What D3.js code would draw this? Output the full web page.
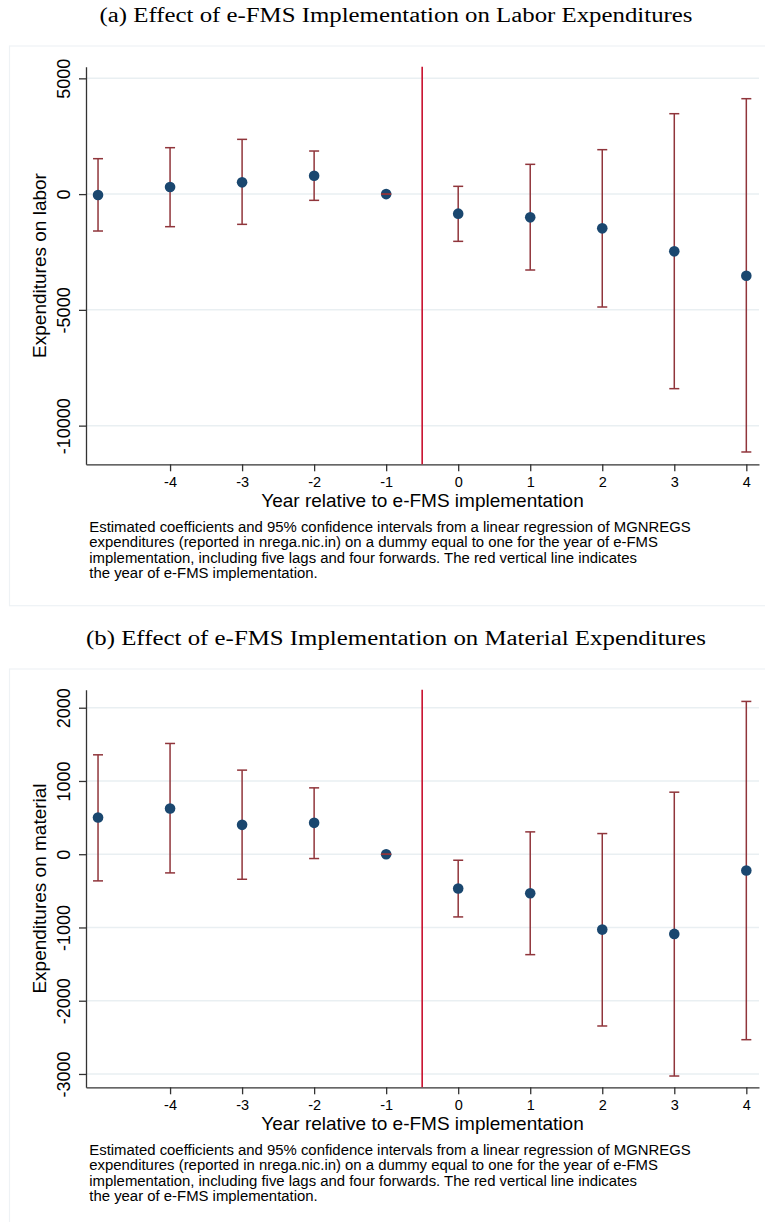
<!DOCTYPE html>
<html>
<head>
<meta charset="utf-8">
<script src="https://cdn.jsdelivr.net/npm/d3@7"></script>
<style>
    body { margin: 0; background: #ffffff; }
    svg { display: block; }
    .sans { font-family: "Liberation Sans", Arial, sans-serif; fill: #000000; }
    .serif { font-family: "Liberation Serif", "DejaVu Serif", serif; fill: #000000; }
</style>
</head>
<body>
<div id="chart"></div>
<script>
/*
Event study: effect of e-FMS implementation on MGNREGS expenditures
(a) labor, (b) material
*/

// year relative to e-FMS implementation
var years = [-5, -4, -3, -2, -1, 0, 1, 2, 3, 4];
var xTicks = [-4, -3, -2, -1, 0, 1, 2, 3, 4];

// panel a: labor expenditures
var laborCoef  = [-40, 307, 508, 796, 0, -845, -1003, -1478, -2472, -3523];
var laborUpper = [1530, 2005, 2365, 1861, 0, 336, 1286, 1919, 3473, 4121];
var laborLower = [-1594, -1407, -1306, -269, 0, -2040, -3278, -4876, -8403, -11138];
var laborTicks = [5000, 0, -5000, -10000];

// panel b: material expenditures
var materialCoef  = [501, 624, 401, 428, 0, -469, -533, -1029, -1088, -223];
var materialUpper = [1357, 1512, 1148, 906, 0, -82, 305, 282, 847, 2086];
var materialLower = [-364, -255, -342, -59, 0, -856, -1371, -2345, -3028, -2532];
var materialTicks = [2000, 1000, 0, -1000, -2000, -3000];

var noteLines = [
    'Estimated coefficients and 95% confidence intervals from a linear regression of MGNREGS',
    'expenditures (reported in nrega.nic.in) on a dummy equal to one for the year of e-FMS',
    'implementation, including five lags and four forwards. The red vertical line indicates',
    'the year of e-FMS implementation.'
];

var width = 765,
    height = 1222;

var margin = { left: 86, right: 759, top: 66.7, bottom: 464.3 };

var colors = { point: '#1a476f', ci: '#90353b', event: '#c8102e',
               grid: '#e9eff2', box: '#eef2f5', axis: '#333333' };

// plain hyphen for negative numbers, as in the original graph
var plain = function(d) { return String(d); };

var svg = d3.select('#chart').append('svg')
    .attr('width', width)
    .attr('height', height);

function drawPanel(offset, title, titleWidth, yLabel, coef, upper, lower, yDomain, yTicks) {
    /*
    This function draws one coefficient plot with its title and note.

    offset: vertical shift of the panel
    title: panel caption above the graph
    titleWidth: width of the caption
    yLabel: title of the y axis
    coef, upper, lower: point estimates and confidence bounds
    yDomain: range of the y axis
    yTicks: labelled values on the y axis
    */

    var g = svg.append('g').attr('transform', 'translate(0,' + offset + ')');

    var rows = years.map(function(d, i) {
        return { year: d, coef: coef[i], upper: upper[i], lower: lower[i] };
    });

    var x = d3.scaleLinear().domain([-5.167, 4.176]).range([margin.left, margin.right]);
    var y = d3.scaleLinear().domain(yDomain).range([margin.top, margin.bottom]);

    // caption
    g.append('text')
        .attr('class', 'serif')
        .attr('x', 396)
        .attr('y', 22)
        .attr('text-anchor', 'middle')
        .attr('textLength', titleWidth)
        .attr('lengthAdjust', 'spacingAndGlyphs')
        .style('font-size', '20px')
        .text(title);

    // light frame of the graph region
    g.append('rect')
        .attr('x', 9.5)
        .attr('y', 46)
        .attr('width', 780)
        .attr('height', 559.7)
        .style('fill', 'none')
        .style('stroke', colors.box)
        .style('stroke-width', 1.2);

    // gridlines
    g.selectAll('.grid')
        .data(yTicks)
        .enter().append('line')
        .attr('x1', margin.left)
        .attr('x2', margin.right)
        .attr('y1', function(d) { return y(d); })
        .attr('y2', function(d) { return y(d); })
        .style('stroke', colors.grid)
        .style('stroke-width', 1.5);

    // y axis
    var yAxis = g.append('g')
        .attr('transform', 'translate(' + margin.left + ',0)')
        .call(d3.axisLeft(y).tickValues(yTicks).tickSize(7).tickSizeOuter(0).tickFormat(plain));

    yAxis.select('.domain').style('stroke', colors.axis).style('stroke-width', 1.3);
    yAxis.selectAll('.tick line').style('stroke', colors.axis).style('stroke-width', 1.3);
    yAxis.selectAll('.tick text')
        .attr('class', 'sans')
        .attr('x', 0)
        .attr('y', 0)
        .attr('dy', null)
        .attr('text-anchor', 'middle')
        .attr('transform', 'translate(-16,0) rotate(-90)')
        .style('font-size', '18px');

    // x axis
    var xAxis = g.append('g')
        .attr('transform', 'translate(0,' + margin.bottom + ')')
        .call(d3.axisBottom(x).tickValues(xTicks).tickSize(7).tickSizeOuter(0).tickFormat(plain));

    xAxis.select('.domain').style('stroke', colors.axis).style('stroke-width', 1.3);
    xAxis.selectAll('.tick line').style('stroke', colors.axis).style('stroke-width', 1.3);
    xAxis.selectAll('.tick text')
        .attr('class', 'sans')
        .attr('y', 23)
        .attr('dy', null)
        .style('font-size', '14.5px');

    // axis titles
    g.append('text')
        .attr('class', 'sans')
        .attr('transform', 'translate(45.5,' + (margin.top + margin.bottom) / 2 + ') rotate(-90)')
        .attr('text-anchor', 'middle')
        .style('font-size', '19px')
        .text(yLabel);

    g.append('text')
        .attr('class', 'sans')
        .attr('x', (margin.left + margin.right) / 2)
        .attr('y', 507.3)
        .attr('text-anchor', 'middle')
        .style('font-size', '19px')
        .text('Year relative to e-FMS implementation');

    // year of e-FMS implementation
    g.append('line')
        .attr('x1', x(-0.5))
        .attr('x2', x(-0.5))
        .attr('y1', margin.top)
        .attr('y2', margin.bottom)
        .style('stroke', colors.event)
        .style('stroke-width', 1.6);

    // confidence interval spikes
    g.selectAll('.spike')
        .data(rows)
        .enter().append('line')
        .attr('x1', function(d) { return x(d.year); })
        .attr('x2', function(d) { return x(d.year); })
        .attr('y1', function(d) { return y(d.upper); })
        .attr('y2', function(d) { return y(d.lower); })
        .style('stroke', colors.ci)
        .style('stroke-width', 1.5);

    // point estimates
    g.selectAll('.dot')
        .data(rows)
        .enter().append('circle')
        .attr('cx', function(d) { return x(d.year); })
        .attr('cy', function(d) { return y(d.coef); })
        .attr('r', 5.3)
        .style('fill', colors.point);

    // caps of the intervals
    var caps = [];
    rows.forEach(function(d) {
        caps.push({ year: d.year, value: d.upper });
        caps.push({ year: d.year, value: d.lower });
    });

    g.selectAll('.cap')
        .data(caps)
        .enter().append('line')
        .attr('x1', function(d) { return x(d.year) - 5; })
        .attr('x2', function(d) { return x(d.year) + 5; })
        .attr('y1', function(d) { return y(d.value); })
        .attr('y2', function(d) { return y(d.value); })
        .style('stroke', colors.ci)
        .style('stroke-width', 1.5);

    // note under the graph
    g.selectAll('.note')
        .data(noteLines)
        .enter().append('text')
        .attr('class', 'sans')
        .attr('x', 89.3)
        .attr('y', function(d, i) { return 531.7 + i * 15.4; })
        .style('font-size', '14.9px')
        .text(function(d) { return d; });
}

drawPanel(0, '(a) Effect of e-FMS Implementation on Labor Expenditures', 593,
          'Expenditures on labor', laborCoef, laborUpper, laborLower, [5503, -11670], laborTicks);

drawPanel(623, '(b) Effect of e-FMS Implementation on Material Expenditures', 620,
          'Expenditures on material', materialCoef, materialUpper, materialLower, [2246, -3182], materialTicks);
</script>
</body>
</html>
